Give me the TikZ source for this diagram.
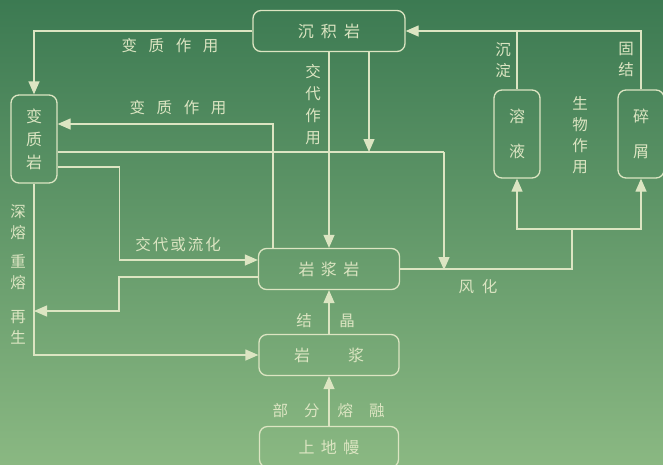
\documentclass[tikz,border=0pt]{standalone}
\usepackage{fontspec}
\setmainfont{Noto Sans CJK SC}
\usetikzlibrary{arrows.meta}
\definecolor{chalk}{RGB}{220,229,194}
\definecolor{boardtop}{RGB}{60,122,82}
\definecolor{boardbot}{RGB}{138,184,130}
\newcommand\ls{\hspace{0.75em}}
\begin{document}
\begin{tikzpicture}[x=1pt,y=-1pt,
  rock/.style={draw=chalk,text=chalk,line width=1.3pt,rounded corners=8pt,inner sep=0pt,minimum height=41pt,font=\fontsize{16}{23}\selectfont},
  tall/.style={rock,minimum width=46pt,minimum height=88pt,align=center},
  lbl/.style={text=chalk,inner sep=0pt,font=\fontsize{15.5}{21}\selectfont,align=center},
  link/.style={draw=chalk,line width=1.3pt},
  go/.style={link,-{Triangle[length=13pt,width=11pt]}}]
\shade[top color=boardtop,bottom color=boardbot] (0,0) rectangle (663,464);
\useasboundingbox (0,0) rectangle (663,464);
\node[rock,minimum width=152pt] (chenji) at (329,31) {沉\hspace{0.45em}积\hspace{0.45em}岩};
\node[tall] (bianzhi) at (34,139) {变\\质\\岩};
\node[rock,minimum width=141pt] (yanjiangyan) at (329,269) {岩\hspace{0.4em}浆\hspace{0.4em}岩};
\node[rock,minimum width=140pt] (yanjiang) at (329,355) {岩\hspace{38pt}浆};
\node[rock,minimum width=139pt] (shangdiman) at (329,447) {上\hspace{0.4em}地\hspace{0.4em}幔};
\node[tall,font=\fontsize{16}{35}\selectfont] (rongye) at (517,134) {溶\\液};
\node[tall,font=\fontsize{16}{35}\selectfont] (suixie) at (641,134) {碎\\屑};
\coordinate (bend) at (444,152);
\coordinate (merge) at (444,270);
\coordinate (hub) at (572,229);
\coordinate (regen) at (34,311);
\draw[go] (chenji.west) -| (bianzhi.north);
\node[lbl] (bz1) at (170,46) {变\ls 质\ls 作\ls 用};
\draw[go] ([xshift=-56pt]yanjiangyan.north) |- ([yshift=15pt]bianzhi.east);
\node[lbl] (bz2) at (178,108) {变\ls 质\ls 作\ls 用};
\draw[link] ([yshift=-13pt]bianzhi.east) -- (bend);
\draw[go] (bend) -- (merge);
\draw[go] ([xshift=40pt]chenji.south) -- ([xshift=40pt]chenji.south |- bend);
\draw[go] (chenji.south) -- (yanjiangyan.north);
\node[lbl,font=\fontsize{15.5}{22}\selectfont] (jd1) at (313,105) {交\\代\\作\\用};
\draw[go] ([yshift=-28pt]bianzhi.east) -- ++(62,0) |- ([yshift=9pt]yanjiangyan.west);
\node[lbl] (jd2) at (178,245) {交\hspace{2pt}代\hspace{2pt}或\hspace{2pt}流\hspace{2pt}化};
\draw[go] ([yshift=-8pt]yanjiangyan.west) -| ([xshift=85pt]regen) -- (regen);
\draw[go] (bianzhi.south) |- (yanjiang.west);
\node[lbl] (sr) at (18,222) {深\\熔};
\node[lbl] (cr) at (18,272) {重\\熔};
\node[lbl] (zs) at (18,327) {再\\生};
\draw[go] (yanjiang.north) -- (yanjiangyan.south);
\node[lbl] (jie) at (304,321) {结};
\node[lbl] (jing) at (347,321) {晶};
\draw[go] (shangdiman.north) -- (yanjiang.south);
\node[lbl] (bf) at (296,411) {部\hspace{16pt}分};
\node[lbl] (rr) at (361,411) {熔\hspace{16pt}融};
\draw[link] (yanjiangyan.east) -| (hub);
\draw[go] (hub) -| (rongye.south);
\draw[go] (hub) -| (suixie.south);
\node[lbl] (fh) at (478,287) {风\hspace{0.5em}化};
\draw[go] (suixie.north) |- (chenji.east);
\draw[link] (rongye.north) -- (rongye.north |- chenji.east);
\node[lbl] (cd) at (503,60) {沉\\淀};
\node[lbl] (gj) at (626,59) {固\\结};
\node[lbl] (sw) at (580,135) {生\\物\\作\\用};
\end{tikzpicture}
\end{document}
